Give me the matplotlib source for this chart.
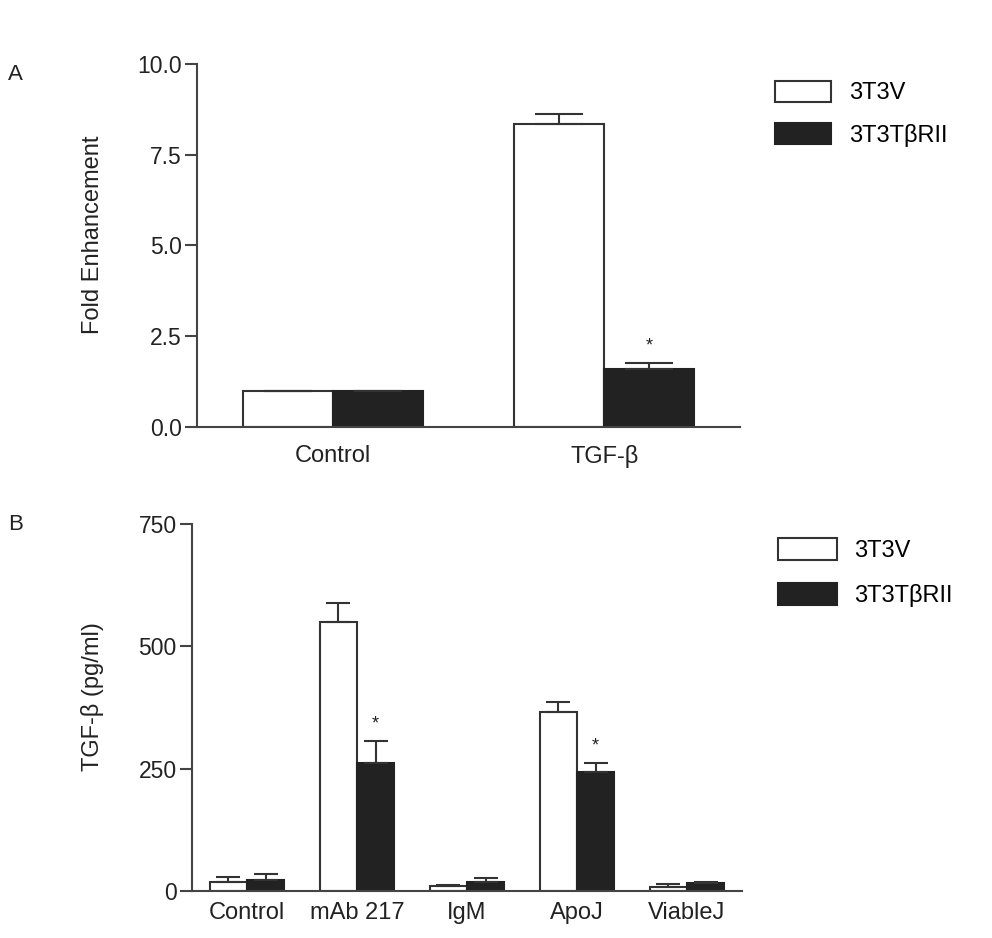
import matplotlib.pyplot as plt
import numpy as np

plt.rcParams['font.family'] = ['Liberation Sans', 'DejaVu Sans']

# panel A
cats_a = ['Control', 'TGF-β']
v_a = [1.0, 8.35]
v_a_err = [0.0, 0.27]
r_a = [1.0, 1.6]
r_a_err = [0.0, 0.16]
star_a = [False, True]

# panel B
cats_b = ['Control', 'mAb 217', 'IgM', 'ApoJ', 'ViableJ']
v_b = [18, 550, 10, 366, 9]
v_b_err = [10, 39, 2, 20, 5]
r_b = [22, 262, 18, 243, 16]
r_b_err = [12, 45, 8, 19, 2]
star_b = [False, True, False, True, False]

series = ['3T3V', '3T3TβRII']

edge = '#333333'
dark = '#222222'


def draw(ax, cats, v, verr, r, rerr, stars, width, capsize, ylim, yticks, yfmt, ylabel, labx, xpad):
    x = np.arange(len(cats))
    b1 = ax.bar(x - width / 2, v, width, color='white', edgecolor=edge, linewidth=1.5, label=series[0])
    b2 = ax.bar(x + width / 2, r, width, color=dark, edgecolor=dark, linewidth=1.5, label=series[1])
    ax.errorbar(x - width / 2, v, yerr=[np.zeros(len(v)), verr], fmt='none', ecolor=edge,
                elinewidth=1.5, capsize=capsize, capthick=1.5)
    ax.errorbar(x + width / 2, r, yerr=[np.zeros(len(r)), rerr], fmt='none', ecolor=edge,
                elinewidth=1.5, capsize=capsize, capthick=1.5)
    for i, s in enumerate(stars):
        if s:
            ax.annotate('*', (x[i] + width / 2, r[i] + rerr[i]), xytext=(0, 6),
                        textcoords='offset points', ha='center', va='bottom', fontsize=13, color='#222222')
    ax.set_xlim(-0.5, len(cats) - 0.5)
    ax.set_ylim(*ylim)
    ax.set_yticks(yticks)
    ax.set_yticklabels([yfmt.format(t) for t in yticks])
    ax.set_xticks(x)
    ax.set_xticklabels(cats)
    ax.tick_params(axis='x', length=0, pad=xpad, labelsize=17, colors='#222222')
    ax.tick_params(axis='y', length=9, width=1.5, labelsize=16.5, colors='#444444', labelcolor='#222222', pad=2)
    for s in ['top', 'right']:
        ax.spines[s].set_visible(False)
    for s in ['left', 'bottom']:
        ax.spines[s].set_linewidth(1.5)
        ax.spines[s].set_color('#444444')
    ax.set_ylabel(ylabel, fontsize=17, color='#222222')
    ax.yaxis.set_label_coords(labx, 0.53)
    return b1, b2


fig = plt.figure(figsize=(9.92, 9.38), dpi=100)

ax1 = fig.add_axes([0.1986, 0.5448, 0.5474, 0.387])
h = draw(ax1, cats_a, v_a, v_a_err, r_a, r_a_err, star_a, 0.332, 17,
         (0, 10), [0, 2.5, 5, 7.5, 10], '{:.1f}', 'Fold Enhancement', -0.172, 13)
fig.legend(h, series, loc='upper left', bbox_to_anchor=(0.769, 0.9264), frameon=False, borderpad=0,
           fontsize=17, handlelength=2.37, handleheight=0.97, handletextpad=0.8, labelspacing=0.81)

ax2 = fig.add_axes([0.1935, 0.0501, 0.5544, 0.3913])
h = draw(ax2, cats_b, v_b, v_b_err, r_b, r_b_err, star_b, 0.34, 8.5,
         (0, 750), [0, 250, 500, 750], '{:d}', 'TGF-β (pg/ml)', -0.16, 8)
fig.legend(h, series, loc='upper left', bbox_to_anchor=(0.772, 0.4393), frameon=False, borderpad=0,
           fontsize=17, handlelength=2.5, handleheight=1.05, handletextpad=0.75, labelspacing=0.9)

fig.text(0.008, 0.915, 'A', fontsize=16, color='#222222')
fig.text(0.008, 0.435, 'B', fontsize=16, color='#222222')

fig.savefig('out.png', dpi=100)
